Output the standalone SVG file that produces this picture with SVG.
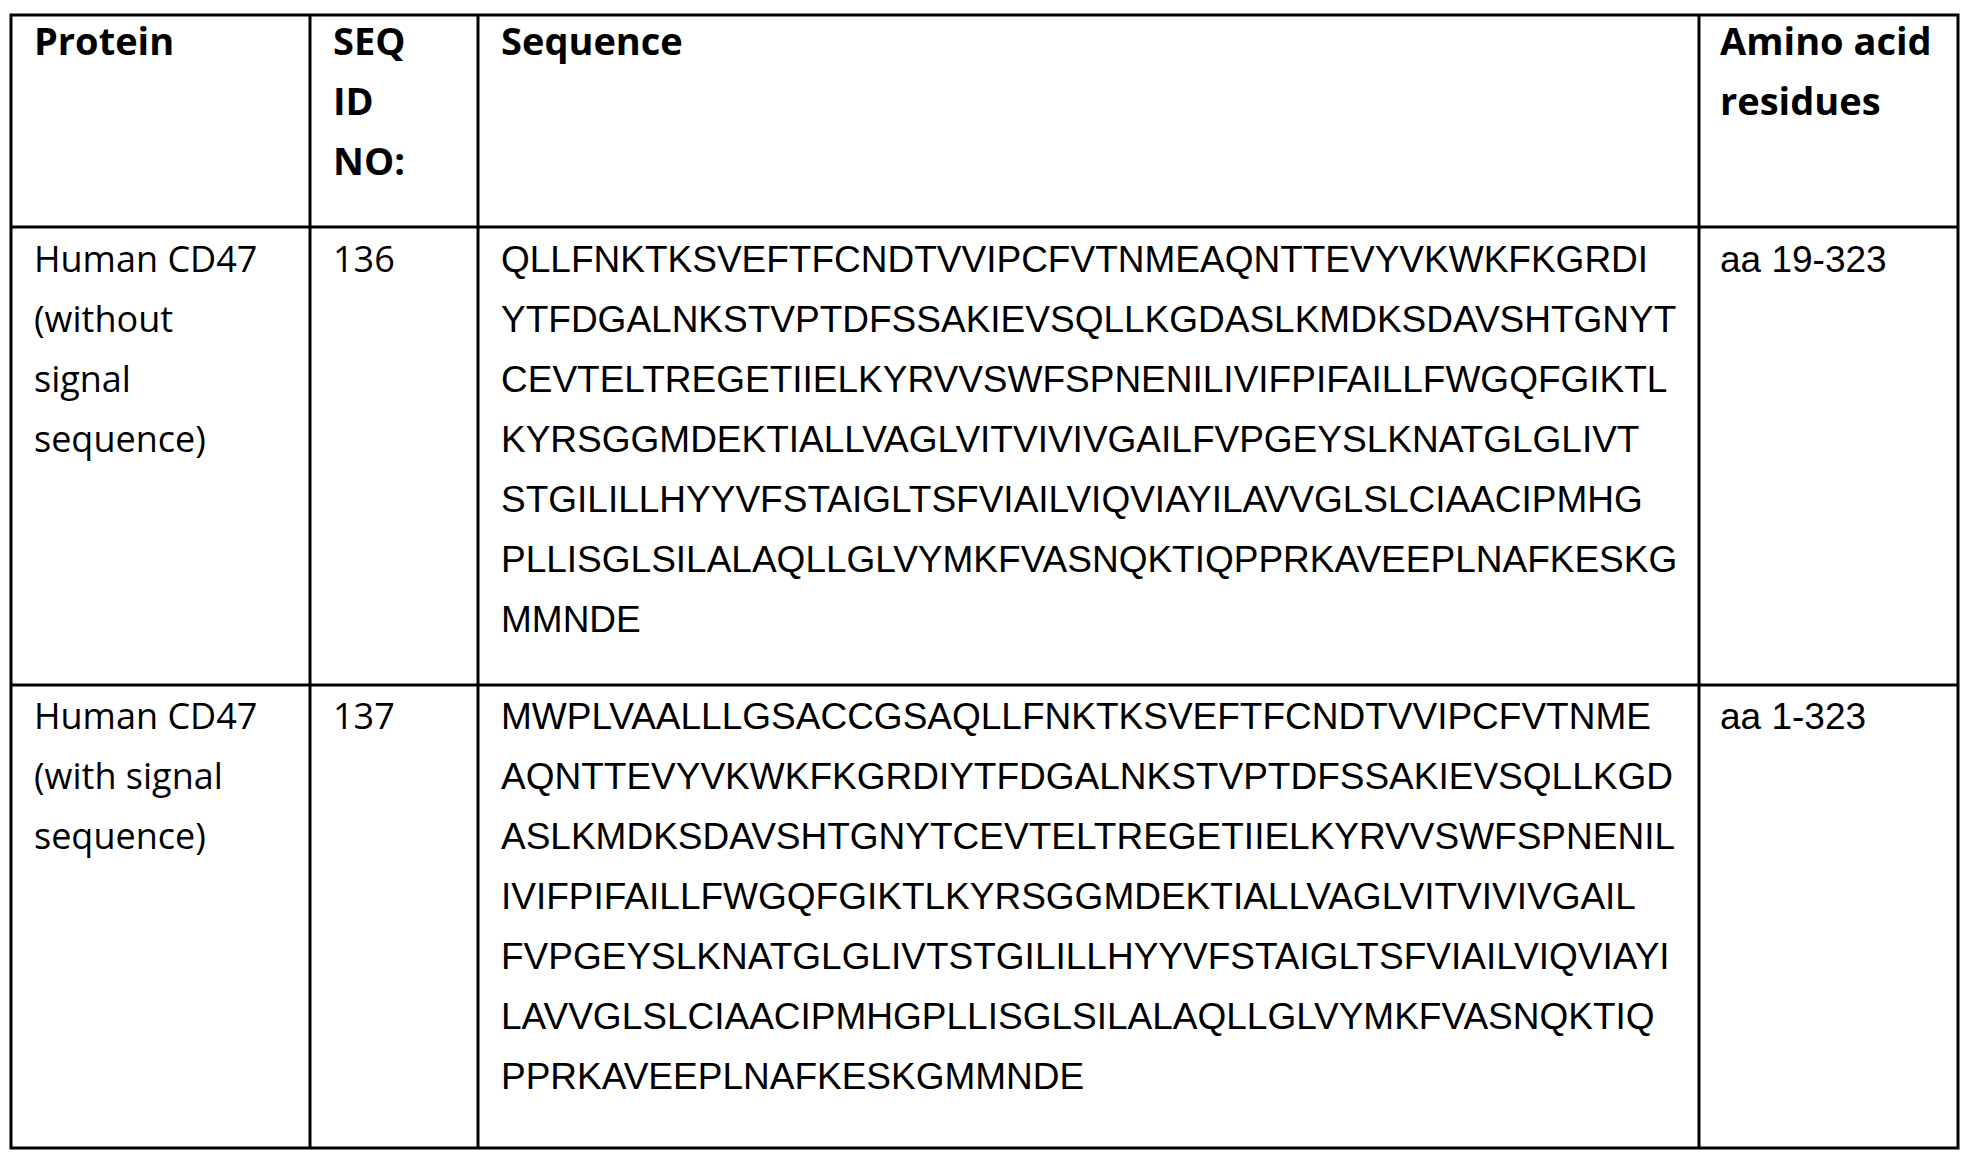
<svg xmlns="http://www.w3.org/2000/svg" width="1971" height="1157" viewBox="0 0 1971 1157">
<style>
.t{font-family:"Liberation Sans",Arial,sans-serif;font-size:37px;fill:#000}
.o{font-family:"Open Sans","Liberation Sans",sans-serif;font-size:36px;fill:#000}
.h{font-family:"Open Sans","Liberation Sans",sans-serif;font-weight:bold;font-size:38px;fill:#000}
.l{stroke:#000;stroke-width:3;fill:none}
</style>
<rect width="1971" height="1157" fill="#fff"/>
<g id="grid">
<rect class="l" x="11" y="15" width="1947" height="1133"/>
<line class="l" x1="11" y1="227" x2="1958" y2="227"/>
<line class="l" x1="11" y1="685" x2="1958" y2="685"/>
<line class="l" x1="310" y1="15" x2="310" y2="1148"/>
<line class="l" x1="478" y1="15" x2="478" y2="1148"/>
<line class="l" x1="1699" y1="15" x2="1699" y2="1148"/>
</g>
<g id="header">
<text class="h" x="34" y="55">Protein</text>
<text class="h" x="333" y="55">SEQ</text>
<text class="h" x="333" y="115">ID</text>
<text class="h" x="333" y="175">NO:</text>
<text class="h" x="501" y="55">Sequence</text>
<text class="h" x="1720" y="55">Amino acid</text>
<text class="h" x="1720" y="115">residues</text>
</g>
<g id="row1">
<text class="o" x="34" y="272">Human CD47</text>
<text class="o" x="34" y="332">(without</text>
<text class="o" x="34" y="392">signal</text>
<text class="o" x="34" y="452">sequence)</text>
<text class="o" x="333" y="272">136</text>
<text class="t" x="501" y="272">QLLFNKTKSVEFTFCNDTVVIPCFVTNMEAQNTTEVYVKWKFKGRDI</text>
<text class="t" x="501" y="332">YTFDGALNKSTVPTDFSSAKIEVSQLLKGDASLKMDKSDAVSHTGNYT</text>
<text class="t" x="501" y="392">CEVTELTREGETIIELKYRVVSWFSPNENILIVIFPIFAILLFWGQFGIKTL</text>
<text class="t" x="501" y="452">KYRSGGMDEKTIALLVAGLVITVIVIVGAILFVPGEYSLKNATGLGLIVT</text>
<text class="t" x="501" y="512">STGILILLHYYVFSTAIGLTSFVIAILVIQVIAYILAVVGLSLCIAACIPMHG</text>
<text class="t" x="501" y="572">PLLISGLSILALAQLLGLVYMKFVASNQKTIQPPRKAVEEPLNAFKESKG</text>
<text class="t" x="501" y="632">MMNDE</text>
<text class="t" x="1720" y="272">aa 19-323</text>
</g>
<g id="row2">
<text class="o" x="34" y="729">Human CD47</text>
<text class="o" x="34" y="789">(with signal</text>
<text class="o" x="34" y="849">sequence)</text>
<text class="o" x="333" y="729">137</text>
<text class="t" x="501" y="729">MWPLVAALLLGSACCGSAQLLFNKTKSVEFTFCNDTVVIPCFVTNME</text>
<text class="t" x="501" y="789">AQNTTEVYVKWKFKGRDIYTFDGALNKSTVPTDFSSAKIEVSQLLKGD</text>
<text class="t" x="501" y="849">ASLKMDKSDAVSHTGNYTCEVTELTREGETIIELKYRVVSWFSPNENIL</text>
<text class="t" x="501" y="909">IVIFPIFAILLFWGQFGIKTLKYRSGGMDEKTIALLVAGLVITVIVIVGAIL</text>
<text class="t" x="501" y="969">FVPGEYSLKNATGLGLIVTSTGILILLHYYVFSTAIGLTSFVIAILVIQVIAYI</text>
<text class="t" x="501" y="1029">LAVVGLSLCIAACIPMHGPLLISGLSILALAQLLGLVYMKFVASNQKTIQ</text>
<text class="t" x="501" y="1089">PPRKAVEEPLNAFKESKGMMNDE</text>
<text class="t" x="1720" y="729">aa 1-323</text>
</g>
</svg>
